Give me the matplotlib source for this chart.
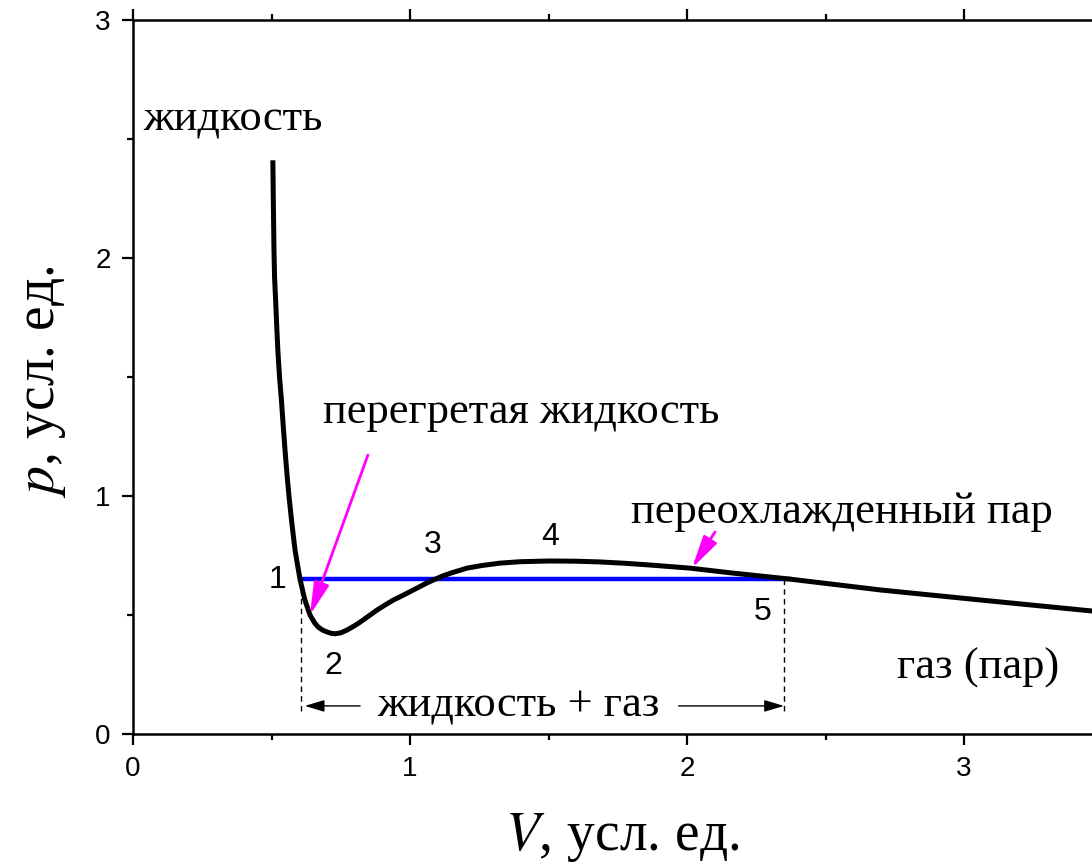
import matplotlib
matplotlib.use("Agg")
import matplotlib.pyplot as plt
from matplotlib.ticker import MultipleLocator

# isotherm
V = [0.505, 0.507, 0.509, 0.511, 0.515, 0.519, 0.523, 0.529, 0.536, 0.542,
     0.549, 0.556, 0.563, 0.574, 0.585, 0.594, 0.603, 0.62, 0.639, 0.655,
     0.668, 0.685, 0.70, 0.715, 0.729, 0.75, 0.773, 0.80, 0.82, 0.85, 0.88,
     0.91, 0.94, 0.97, 1.0, 1.03, 1.06, 1.09, 1.12, 1.15, 1.206, 1.26,
     1.325, 1.40, 1.505, 1.60, 1.686, 1.78, 1.866, 2.01, 2.166, 2.37,
     2.70, 3.06, 3.46]
p = [2.40, 2.20, 2.03, 1.92, 1.82, 1.71, 1.61, 1.50, 1.40, 1.30,
     1.19, 1.09, 1.00, 0.88, 0.773, 0.71, 0.65, 0.565, 0.50, 0.468,
     0.45, 0.436, 0.429, 0.423, 0.421, 0.425, 0.437, 0.455, 0.47, 0.495, 0.52,
     0.542, 0.563, 0.58, 0.598, 0.616, 0.634, 0.65, 0.665, 0.677, 0.697, 0.708,
     0.718, 0.724, 0.727, 0.726, 0.723, 0.717, 0.710, 0.697, 0.676, 0.651,
     0.605, 0.563, 0.517]

p_sat = 0.65
V_left, V_right = 0.606, 2.37
V_dash_right = 2.35
p_dash_low = 0.085

point_labels = ["1", "2", "3", "4", "5"]
point_x = [0.523, 0.722, 1.083, 1.505, 2.274]
point_y = [0.647, 0.286, 0.794, 0.828, 0.513]

SERIF = "Liberation Serif"
SANS = "Liberation Sans"

fig = plt.figure(figsize=(10.92, 8.66), dpi=100)
ax = fig.add_axes([133 / 1092, 132 / 866, 3.5 * 277 / 1092, 714 / 866])

ax.plot(V, p, color="black", lw=3.6, solid_joinstyle="round", zorder=3)
ax.plot([V_left, V_right], [p_sat, p_sat], color="#0000ff", lw=3.2, zorder=2)

# dashed verticals
ax.plot([V_left, V_left], [p_sat, p_dash_low], color="black", lw=1, ls=(0, (4, 3)))
ax.plot([V_dash_right, V_dash_right], [p_sat, p_dash_low], color="black", lw=1, ls=(0, (4, 3)))

# liquid + gas span arrows
arr = dict(arrowstyle="-|>,head_length=0.6,head_width=0.18", color="black", lw=1,
           mutation_scale=20, shrinkA=0, shrinkB=0)
ax.annotate("", xy=(0.62, 0.118), xytext=(0.82, 0.118), arrowprops=arr)
ax.annotate("", xy=(V_dash_right, 0.118), xytext=(1.97, 0.118), arrowprops=arr)
ax.text(1.39, 0.118, "жидкость + газ", family=SERIF, fontsize=32, ha="center", va="center")

# magenta pointers
mag = dict(arrowstyle="-|>,head_length=0.55,head_width=0.13", color="#ff00ff", lw=2,
           mutation_scale=36, shrinkA=0, shrinkB=0)
ax.annotate("", xy=(0.639, 0.50), xytext=(0.848, 1.172), arrowprops=mag, zorder=4)
ax.annotate("", xy=(2.018, 0.697), xytext=(2.101, 0.849), arrowprops=mag, zorder=4)

ax.text(0.036, 2.58, "жидкость", family=SERIF, fontsize=32, ha="left", va="center")
ax.text(1.40, 1.353, "перегретая жидкость", family=SERIF, fontsize=32, ha="center", va="center")
ax.text(2.56, 0.933, "переохлажденный пар", family=SERIF, fontsize=32, ha="center", va="center")
ax.text(3.05, 0.28, "газ (пар)", family=SERIF, fontsize=32, ha="center", va="center")

for lab, x, y in zip(point_labels, point_x, point_y):
    ax.text(x, y, lab, family=SANS, fontsize=23, ha="center", va="center")

ax.set_xlim(0, 3.5)
ax.set_ylim(0, 3)
ax.xaxis.set_major_locator(MultipleLocator(1))
ax.xaxis.set_minor_locator(MultipleLocator(0.5))
ax.yaxis.set_major_locator(MultipleLocator(1))
ax.yaxis.set_minor_locator(MultipleLocator(0.5))
ax.tick_params(which="both", direction="out", width=1.6, top=True, right=True,
               labelsize=20, pad=8)
ax.tick_params(which="major", length=8)
ax.tick_params(which="minor", length=4)
for lab in ax.get_xticklabels() + ax.get_yticklabels():
    lab.set_family(SANS)
for s in ax.spines.values():
    s.set_linewidth(1.8)

fig.text(622 / 1092, 1 - 838 / 866, "$V$, усл. ед.", family=SERIF, fontsize=40,
         ha="center", va="center", math_fontfamily="stix")
fig.text(42 / 1092, 1 - 382 / 866, "$p$, усл. ед.", family=SERIF, fontsize=40,
         ha="center", va="center", rotation=90, math_fontfamily="stix")

fig.savefig("out.png", dpi=100)
